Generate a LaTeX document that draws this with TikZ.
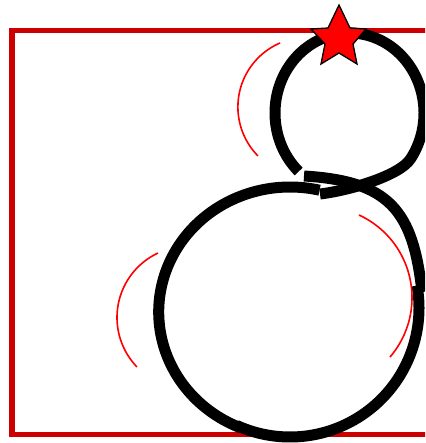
\documentclass[tikz,border=0pt]{standalone}
\begin{document}
\definecolor{framered}{RGB}{204,0,0}
\begin{tikzpicture}[x=1pt,y=-1pt,
  blk/.style={line width=11pt, draw=black},
  redarc/.style={draw=red, line width=1.6pt},
  frame/.style={draw=framered, line width=5.8pt, fill=white},
  starshape/.style={fill=red, draw=black, line width=1.3pt, line join=miter}]
\useasboundingbox (0,0) rectangle (425,443);
\clip (0,0) rectangle (425,443);
\fill[white] (0,0) rectangle (425,443);
% frame
\draw[frame] (12.3,30.5) rectangle (470,434.5);
% small circle
\draw[blk] plot[domain=133:395, samples=120] ({349.5+74.5*cos(\x)},{113+80*sin(\x)})
  .. controls (399.6,175.7) and (349.7,190.4) .. (320,194);
% large circle, left arc
\draw[blk] plot[domain=-77:-248, samples=120] ({290+131.3*cos(\x)},{312+125*sin(\x)});
% large circle, bottom and lower right
\draw[blk] plot[domain=114.5:-10, samples=100] ({290+129*cos(\x)},{308+129*sin(\x)});
% large circle, upper right
\draw[blk] (422,292) .. controls (413,210) and (389,181.1) .. (304,176);
% red arcs
\draw[redarc] plot[domain=135.4:246.7, samples=60] ({307.6+69.7*cos(\x)},{107+69.7*sin(\x)});
\draw[redarc] plot[domain=136:244.9, samples=60] ({188.2+71.2*cos(\x)},{317.5+71.2*sin(\x)});
\draw[redarc] plot[domain=-65.3:40.7, samples=60] ({321+91*cos(\x)},{297.7+91*sin(\x)});
% star
\draw[starshape] (339,5) -- (350,28) -- (366,29) -- (353,44) -- (357,64) -- (339,53) -- (321,64) -- (325,44) -- (311,29) -- (328,28) -- cycle;
\end{tikzpicture}
\end{document}
